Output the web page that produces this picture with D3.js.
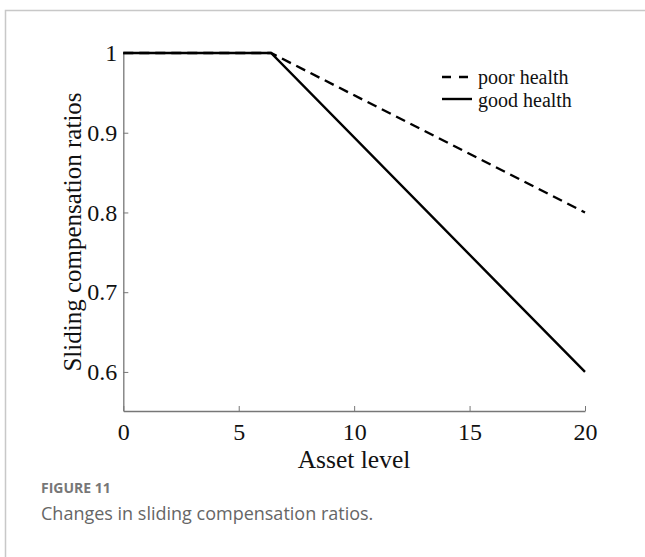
<!DOCTYPE html>
<html><head><meta charset="utf-8">
<script src="https://cdn.jsdelivr.net/npm/d3@7"></script>
<style>body{margin:0;background:#fff}svg{display:block}</style>
</head><body>
<svg id="c" width="645" height="557"></svg>
<script>
const xTicks = [0, 5, 10, 15, 20];
const yTicks = [0.6, 0.7, 0.8, 0.9, 1];
const poorHealth = [[0, 1], [6.4, 1], [20, 0.8]];
const goodHealth = [[0, 1], [6.4, 1], [20, 0.6]];
const seriesNames = ["poor health", "good health"];

const svg = d3.select("#c");
// frame
svg.append("path").attr("d","M5.5,557 V10.5 H645").attr("fill","none").attr("stroke","#c8c8c8").attr("stroke-width",1.5);

const x = d3.scaleLinear().domain([0,20]).range([123.3,585]);
const y = d3.scaleLinear().domain([0.551,1]).range([411,53]);
const axisColor = "#777";
const serif = "'Liberation Serif','Times New Roman',serif";

const gx = svg.append("g").attr("transform","translate(0,411)")
  .call(d3.axisBottom(x).tickValues(xTicks).tickSize(-5).tickSizeOuter(0).tickPadding(12).tickFormat(d3.format("d")));
const gy = svg.append("g").attr("transform","translate(123.3,0)")
  .call(d3.axisLeft(y).tickValues(yTicks).tickSize(-5).tickSizeOuter(0).tickPadding(6).tickFormat(d=> d===1?"1":d3.format(".1f")(d)));
[gx,gy].forEach(g=>{
  g.select(".domain").attr("stroke",axisColor).attr("stroke-width",1.3);
  g.selectAll(".tick line").attr("stroke",axisColor);
  g.selectAll("text").attr("font-family",serif).attr("font-size",24).attr("fill","#111");
});

const line = d3.line().x(d=>x(d[0])).y(d=>y(d[1]));
svg.append("path").datum(goodHealth).attr("d",line).attr("fill","none").attr("stroke","#000").attr("stroke-width",2.4);
svg.append("path").datum(poorHealth).attr("d",line).attr("fill","none").attr("stroke","#000").attr("stroke-width",2.4).attr("stroke-dasharray","10,6");

// legend
const leg = svg.append("g");
[["10,6",77,84],["none",99,107]].forEach((s,i)=>{
  leg.append("line").attr("x1",442).attr("x2",472).attr("y1",s[1]).attr("y2",s[1])
    .attr("stroke","#000").attr("stroke-width",2.4).attr("stroke-dasharray",s[0]==="none"?null:"9,8");
  leg.append("text").attr("x",478).attr("y",s[2]).text(seriesNames[i])
    .attr("font-family",serif).attr("font-size",20).attr("fill","#111");
});

// axis titles
svg.append("text").attr("x",354).attr("y",468).attr("text-anchor","middle").text("Asset level")
  .attr("font-family",serif).attr("font-size",25.5).attr("fill","#111");
svg.append("text").attr("transform","translate(81,232) rotate(-90)").attr("text-anchor","middle").text("Sliding compensation ratios")
  .attr("font-family",serif).attr("font-size",25).attr("fill","#111");

// caption
svg.append("text").attr("x",41).attr("y",493).text("FIGURE 11")
  .attr("font-family","'Open Sans',sans-serif").attr("font-weight",700).attr("font-size",14).attr("fill","#777");
svg.append("text").attr("x",41).attr("y",520).text("Changes in sliding compensation ratios.")
  .attr("font-family","'Open Sans',sans-serif").attr("font-size",18).attr("fill","#666");
</script>
</body></html>
